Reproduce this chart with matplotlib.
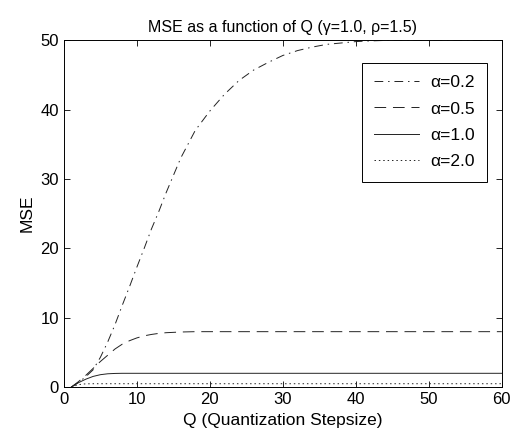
import matplotlib.pyplot as plt

plt.rcParams["font.family"] = ["Liberation Sans", "DejaVu Sans"]

# MSE vs quantization step size, one curve per alpha
q_a02 = [1, 2, 3, 4, 5, 6, 7, 8, 9, 10, 11, 12, 13, 14, 15, 16, 17, 18, 20,
         22, 24, 26, 28, 30, 32, 34, 36, 38, 40, 42, 45, 50, 55, 60]
mse_a02 = [0, 0.7, 1.5, 2.5, 4.3, 6.5, 9.0, 11.8, 14.5, 17.3, 20.0, 22.8, 25.3,
           28.0, 30.5, 33.0, 35.0, 37.0, 39.8, 42.2, 44.2, 45.7, 46.8, 47.8,
           48.5, 49.0, 49.4, 49.6, 49.8, 49.9, 50.0, 50.0, 50.0, 50.0]

q_a05 = [1, 2, 3, 4, 5, 6, 7, 8, 9, 10, 11, 12, 13, 14, 15, 16, 18, 20, 30, 40, 50, 60]
mse_a05 = [0, 0.8, 1.7, 2.7, 3.7, 4.6, 5.5, 6.2, 6.7, 7.1, 7.4, 7.6, 7.75, 7.85,
           7.9, 7.95, 8.0, 8.0, 8.0, 8.0, 8.0, 8.0]

q_a10 = [1, 2, 3, 4, 5, 6, 7, 8, 10, 20, 30, 40, 50, 60]
mse_a10 = [0, 0.65, 1.15, 1.55, 1.8, 1.93, 1.98, 2.0, 2.0, 2.0, 2.0, 2.0, 2.0, 2.0]

q_a20 = [1, 1.5, 2, 2.5, 3, 4, 5, 10, 20, 30, 40, 50, 60]
mse_a20 = [0, 0.2, 0.35, 0.44, 0.48, 0.5, 0.5, 0.5, 0.5, 0.5, 0.5, 0.5, 0.5]

fig = plt.figure(figsize=(5.11, 4.37), dpi=100)
ax = fig.add_axes([0.125, 0.114, 0.857, 0.794])

ax.plot(q_a02, mse_a02, color="#222222", lw=0.7, linestyle=(0, (9, 5, 1.5, 5)), label="α=0.2")
ax.plot(q_a05, mse_a05, color="#222222", lw=0.7, linestyle=(0, (12, 7)), label="α=0.5")
ax.plot(q_a10, mse_a10, color="#222222", lw=0.7, linestyle="-", label="α=1.0")
ax.plot(q_a20, mse_a20, color="#222222", lw=0.7, linestyle=(0, (1.5, 3)), label="α=2.0")

ax.set_xlim(0, 60)
ax.set_ylim(0, 50)
ax.set_xticks(range(0, 61, 10))
ax.set_yticks(range(0, 51, 10))
ax.tick_params(direction="in", top=True, right=True, labelsize=12, length=4, width=0.6)
for s in ax.spines.values():
    s.set_linewidth(0.7)

ax.set_title("MSE as a function of Q (γ=1.0, ρ=1.5)", fontsize=11.5)
ax.set_xlabel("Q (Quantization Stepsize)", fontsize=12.5)
ax.set_ylabel("MSE", fontsize=12.5)

leg = ax.legend(loc="upper right", bbox_to_anchor=(0.985, 0.96), fontsize=12.5,
                handlelength=2.6, handletextpad=0.6, labelspacing=0.65, borderpad=0.7,
                fancybox=False, edgecolor="black", framealpha=1)
leg.get_frame().set_linewidth(0.7)

fig.savefig("out.png", dpi=100)
